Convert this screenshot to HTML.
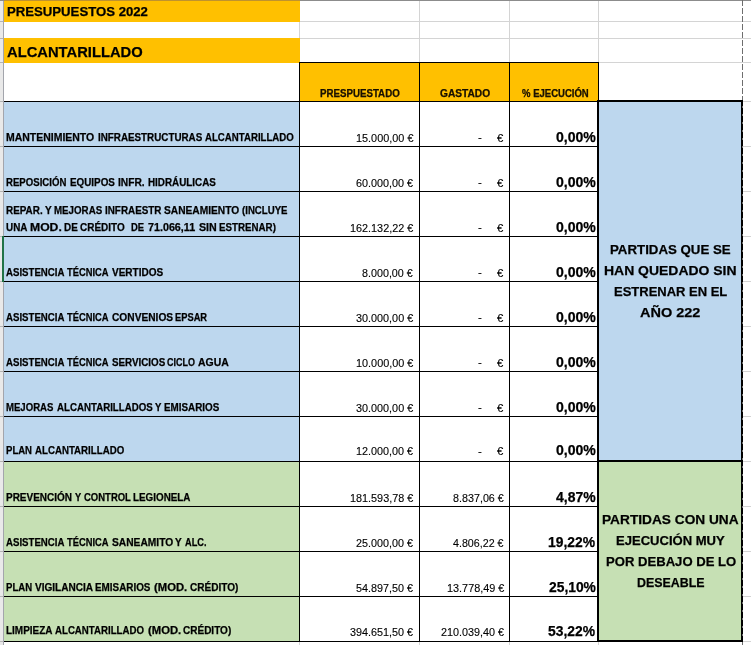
<!DOCTYPE html><html lang="es"><head><meta charset="utf-8"><title>Presupuestos 2022 - Alcantarillado</title>
<style>
html,body{margin:0;padding:0;background:#fff;}
body{width:751px;height:645px;position:relative;overflow:hidden;font-family:"Liberation Sans",sans-serif;}
#g div{position:absolute;}
.t{position:absolute;white-space:pre;line-height:1;transform-origin:0 0;display:block;-webkit-text-stroke:0.12px #000;}
.ln{position:absolute;left:0;top:0;width:0;height:0;}
.b{font-weight:bold;-webkit-text-stroke:0.25px #000;}
</style></head><body>
<div id="g"><div style="left:4px;top:21px;width:747px;height:1px;background:#D4D4D4;"></div><div style="left:4px;top:38px;width:747px;height:1px;background:#D4D4D4;"></div><div style="left:4px;top:62px;width:747px;height:1px;background:#D4D4D4;"></div><div style="left:743px;top:101px;width:8px;height:1px;background:#D4D4D4;"></div><div style="left:743px;top:146px;width:8px;height:1px;background:#D4D4D4;"></div><div style="left:743px;top:191px;width:8px;height:1px;background:#D4D4D4;"></div><div style="left:743px;top:236px;width:8px;height:1px;background:#D4D4D4;"></div><div style="left:743px;top:281px;width:8px;height:1px;background:#D4D4D4;"></div><div style="left:743px;top:326px;width:8px;height:1px;background:#D4D4D4;"></div><div style="left:743px;top:371px;width:8px;height:1px;background:#D4D4D4;"></div><div style="left:743px;top:416px;width:8px;height:1px;background:#D4D4D4;"></div><div style="left:743px;top:461px;width:8px;height:1px;background:#D4D4D4;"></div><div style="left:743px;top:506px;width:8px;height:1px;background:#D4D4D4;"></div><div style="left:743px;top:551px;width:8px;height:1px;background:#D4D4D4;"></div><div style="left:743px;top:596px;width:8px;height:1px;background:#D4D4D4;"></div><div style="left:743px;top:641px;width:8px;height:1px;background:#D4D4D4;"></div><div style="left:299px;top:1px;width:1px;height:62px;background:#D4D4D4;"></div><div style="left:419px;top:1px;width:1px;height:62px;background:#D4D4D4;"></div><div style="left:509px;top:1px;width:1px;height:62px;background:#D4D4D4;"></div><div style="left:598px;top:1px;width:1px;height:62px;background:#D4D4D4;"></div><div style="left:299px;top:642px;width:1px;height:3px;background:#D4D4D4;"></div><div style="left:419px;top:642px;width:1px;height:3px;background:#D4D4D4;"></div><div style="left:509px;top:642px;width:1px;height:3px;background:#D4D4D4;"></div><div style="left:598px;top:642px;width:1px;height:3px;background:#D4D4D4;"></div><div style="left:0px;top:0px;width:3px;height:645px;background:#E9E9E9;"></div><div style="left:0px;top:21px;width:3px;height:1px;background:#B4B4B4;"></div><div style="left:0px;top:38px;width:3px;height:1px;background:#B4B4B4;"></div><div style="left:0px;top:62px;width:3px;height:1px;background:#B4B4B4;"></div><div style="left:0px;top:101px;width:3px;height:1px;background:#B4B4B4;"></div><div style="left:0px;top:146px;width:3px;height:1px;background:#B4B4B4;"></div><div style="left:0px;top:191px;width:3px;height:1px;background:#B4B4B4;"></div><div style="left:0px;top:236px;width:3px;height:1px;background:#B4B4B4;"></div><div style="left:0px;top:281px;width:3px;height:1px;background:#B4B4B4;"></div><div style="left:0px;top:326px;width:3px;height:1px;background:#B4B4B4;"></div><div style="left:0px;top:371px;width:3px;height:1px;background:#B4B4B4;"></div><div style="left:0px;top:416px;width:3px;height:1px;background:#B4B4B4;"></div><div style="left:0px;top:461px;width:3px;height:1px;background:#B4B4B4;"></div><div style="left:0px;top:506px;width:3px;height:1px;background:#B4B4B4;"></div><div style="left:0px;top:551px;width:3px;height:1px;background:#B4B4B4;"></div><div style="left:0px;top:596px;width:3px;height:1px;background:#B4B4B4;"></div><div style="left:0px;top:641px;width:3px;height:1px;background:#B4B4B4;"></div><div style="left:3px;top:0px;width:1px;height:645px;background:#A3A5AC;"></div><div style="left:4px;top:1px;width:296px;height:21px;background:#FFC000;"></div><div style="left:4px;top:38px;width:296px;height:25px;background:#FFC000;"></div><div style="left:300px;top:63px;width:298px;height:38px;background:#FFC000;"></div><div style="left:4px;top:102px;width:295px;height:359px;background:#BDD7EE;"></div><div style="left:4px;top:462px;width:295px;height:179px;background:#C6E0B4;"></div><div style="left:599px;top:102px;width:142px;height:358px;background:#BDD7EE;"></div><div style="left:599px;top:462px;width:142px;height:178px;background:#C6E0B4;"></div><div style="left:0px;top:0px;width:751px;height:1px;background:#8C8C8C;"></div><div style="left:4px;top:0px;width:296px;height:1px;background:#BF922E;"></div><div style="left:4px;top:101px;width:595px;height:1px;background:#000;"></div><div style="left:4px;top:146px;width:595px;height:1px;background:#000;"></div><div style="left:4px;top:191px;width:595px;height:1px;background:#000;"></div><div style="left:4px;top:236px;width:595px;height:1px;background:#000;"></div><div style="left:4px;top:281px;width:595px;height:1px;background:#000;"></div><div style="left:4px;top:326px;width:595px;height:1px;background:#000;"></div><div style="left:4px;top:371px;width:595px;height:1px;background:#000;"></div><div style="left:4px;top:416px;width:595px;height:1px;background:#000;"></div><div style="left:4px;top:461px;width:595px;height:1px;background:#000;"></div><div style="left:4px;top:506px;width:595px;height:1px;background:#000;"></div><div style="left:4px;top:551px;width:595px;height:1px;background:#000;"></div><div style="left:4px;top:596px;width:595px;height:1px;background:#000;"></div><div style="left:4px;top:641px;width:595px;height:1px;background:#000;"></div><div style="left:299px;top:62px;width:300px;height:1px;background:#000;"></div><div style="left:299px;top:62px;width:1px;height:580px;background:#000;"></div><div style="left:419px;top:62px;width:1px;height:580px;background:#000;"></div><div style="left:509px;top:62px;width:1px;height:580px;background:#000;"></div><div style="left:598px;top:62px;width:1px;height:580px;background:#000;"></div><div style="left:597px;top:100px;width:2px;height:542px;background:#000;"></div><div style="left:597px;top:100px;width:146px;height:2px;background:#000;"></div><div style="left:597px;top:460px;width:146px;height:2px;background:#000;"></div><div style="left:597px;top:640px;width:146px;height:2px;background:#000;"></div><div style="left:741px;top:100px;width:1px;height:542px;background:#000;"></div><div style="left:742px;top:0px;width:1px;height:645px;background:repeating-linear-gradient(to bottom,#6e6e6e 0,#6e6e6e 6px,transparent 6px,transparent 8px);"></div><div style="left:742px;top:100px;width:1px;height:542px;background:repeating-linear-gradient(to bottom,#000 0,#000 6px,transparent 6px,transparent 8px);"></div><div style="left:2px;top:236px;width:2px;height:46px;background:#217346;"></div></div>
<span class="t b" style="left:6.73px;top:6.22px;font-size:12.5px;transform:scaleX(1.0527)">PRESUPUESTOS 2022</span>
<span class="t b" style="left:7.05px;top:43.75px;font-size:15.5px;transform:scaleX(0.9512)">ALCANTARILLADO</span>
<span class="t b" style="left:320.09px;top:88.62px;font-size:10px;color:#1c1200;transform:scaleX(0.9714)">PRESPUESTADO</span>
<span class="t b" style="left:439.82px;top:88.62px;font-size:10px;color:#1c1200;transform:scaleX(1.0168)">GASTADO</span>
<span class="t b" style="left:521.64px;top:88.60px;font-size:10px;color:#1c1200;transform:scaleX(0.9534)">% EJECUCIÓN</span>
<div class="ln"><span class="t b" style="left:6.27px;top:132.07px;font-size:10.5px;transform:scaleX(0.9970)">MANTENIMIENTO</span> <span class="t b" style="left:97.86px;top:132.07px;font-size:10.5px;transform:scaleX(0.9353)">INFRAESTRUCTURAS</span> <span class="t b" style="left:205.24px;top:132.07px;font-size:10.5px;transform:scaleX(0.9189)">ALCANTARILLADO</span></div>
<div class="ln"><span class="t b" style="left:6.11px;top:177.07px;font-size:10.5px;transform:scaleX(0.9151)">REPOSICIÓN</span> <span class="t b" style="left:70.26px;top:177.07px;font-size:10.5px;transform:scaleX(0.9376)">EQUIPOS</span> <span class="t b" style="left:117.62px;top:177.07px;font-size:10.5px;transform:scaleX(0.9741)">INFR.</span> <span class="t b" style="left:147.64px;top:177.07px;font-size:10.5px;transform:scaleX(0.9374)">HIDRÁULICAS</span></div>
<div class="ln"><span class="t b" style="left:6.16px;top:205.07px;font-size:10.5px;transform:scaleX(0.9427)">REPAR.</span> <span class="t b" style="left:44.82px;top:205.07px;font-size:10.5px;transform:scaleX(0.9546)">Y</span> <span class="t b" style="left:53.59px;top:205.07px;font-size:10.5px;transform:scaleX(0.9278)">MEJORAS</span> <span class="t b" style="left:104.72px;top:205.07px;font-size:10.5px;transform:scaleX(0.9399)">INFRAESTR</span> <span class="t b" style="left:163.96px;top:205.07px;font-size:10.5px;transform:scaleX(0.9715)">SANEAMIENTO</span> <span class="t b" style="left:241.72px;top:205.07px;font-size:10.5px;transform:scaleX(0.9178)">(INCLUYE</span></div>
<div class="ln"><span class="t b" style="left:6.36px;top:222.07px;font-size:10.5px;transform:scaleX(0.9414)">UNA</span> <span class="t b" style="left:29.66px;top:222.07px;font-size:10.5px;transform:scaleX(1.1595)">MOD.</span> <span class="t b" style="left:64.48px;top:222.07px;font-size:10.5px;transform:scaleX(0.9424)">DE</span> <span class="t b" style="left:80.36px;top:222.07px;font-size:10.5px;transform:scaleX(0.9482)">CRÉDITO</span> <span class="t b" style="left:130.66px;top:222.07px;font-size:10.5px;transform:scaleX(0.8988)">DE</span> <span class="t b" style="left:148.12px;top:222.07px;font-size:10.5px;transform:scaleX(1.0228)">71.066,11</span> <span class="t b" style="left:199.47px;top:222.07px;font-size:10.5px;transform:scaleX(1.0167)">SIN</span> <span class="t b" style="left:218.92px;top:222.07px;font-size:10.5px;transform:scaleX(0.9290)">ESTRENAR)</span></div>
<div class="ln"><span class="t b" style="left:5.66px;top:267.07px;font-size:10.5px;transform:scaleX(0.9190)">ASISTENCIA</span> <span class="t b" style="left:67.44px;top:267.07px;font-size:10.5px;transform:scaleX(0.8908)">TÉCNICA</span> <span class="t b" style="left:112.13px;top:267.07px;font-size:10.5px;transform:scaleX(0.9534)">VERTIDOS</span></div>
<div class="ln"><span class="t b" style="left:5.66px;top:312.07px;font-size:10.5px;transform:scaleX(0.9190)">ASISTENCIA</span> <span class="t b" style="left:67.44px;top:312.07px;font-size:10.5px;transform:scaleX(0.8908)">TÉCNICA</span> <span class="t b" style="left:111.80px;top:312.07px;font-size:10.5px;transform:scaleX(0.9698)">CONVENIOS</span> <span class="t b" style="left:175.03px;top:312.07px;font-size:10.5px;transform:scaleX(0.8867)">EPSAR</span></div>
<div class="ln"><span class="t b" style="left:5.66px;top:357.07px;font-size:10.5px;transform:scaleX(0.9190)">ASISTENCIA</span> <span class="t b" style="left:67.44px;top:357.07px;font-size:10.5px;transform:scaleX(0.8908)">TÉCNICA</span> <span class="t b" style="left:112.02px;top:357.07px;font-size:10.5px;transform:scaleX(0.9349)">SERVICIOS</span> <span class="t b" style="left:167.34px;top:357.07px;font-size:10.5px;transform:scaleX(0.8556)">CICLO</span> <span class="t b" style="left:197.63px;top:357.07px;font-size:10.5px;transform:scaleX(0.9938)">AGUA</span></div>
<div class="ln"><span class="t b" style="left:6.27px;top:402.07px;font-size:10.5px;transform:scaleX(0.9118)">MEJORAS</span> <span class="t b" style="left:56.72px;top:402.07px;font-size:10.5px;transform:scaleX(0.9240)">ALCANTARILLADOS</span> <span class="t b" style="left:155.30px;top:402.07px;font-size:10.5px;transform:scaleX(0.9132)">Y</span> <span class="t b" style="left:164.29px;top:402.07px;font-size:10.5px;transform:scaleX(0.9387)">EMISARIOS</span></div>
<div class="ln"><span class="t b" style="left:6.26px;top:445.07px;font-size:10.5px;transform:scaleX(0.9107)">PLAN</span> <span class="t b" style="left:34.89px;top:445.07px;font-size:10.5px;transform:scaleX(0.9230)">ALCANTARILLADO</span></div>
<div class="ln"><span class="t b" style="left:5.81px;top:492.07px;font-size:10.5px;transform:scaleX(0.9510)">PREVENCIÓN</span> <span class="t b" style="left:74.64px;top:492.07px;font-size:10.5px;transform:scaleX(0.8829)">Y</span> <span class="t b" style="left:83.65px;top:492.07px;font-size:10.5px;transform:scaleX(0.9036)">CONTROL</span> <span class="t b" style="left:133.40px;top:492.07px;font-size:10.5px;transform:scaleX(0.9378)">LEGIONELA</span></div>
<div class="ln"><span class="t b" style="left:5.66px;top:537.08px;font-size:10.5px;transform:scaleX(0.9190)">ASISTENCIA</span> <span class="t b" style="left:67.44px;top:537.08px;font-size:10.5px;transform:scaleX(0.8908)">TÉCNICA</span> <span class="t b" style="left:112.03px;top:537.08px;font-size:10.5px;transform:scaleX(0.9743)">SANEAMITO</span> <span class="t b" style="left:175.47px;top:537.08px;font-size:10.5px;transform:scaleX(0.9545)">Y</span> <span class="t b" style="left:184.69px;top:537.08px;font-size:10.5px;transform:scaleX(0.8747)">ALC.</span></div>
<div class="ln"><span class="t b" style="left:6.29px;top:582.08px;font-size:10.5px;transform:scaleX(0.9112)">PLAN</span> <span class="t b" style="left:34.63px;top:582.08px;font-size:10.5px;transform:scaleX(0.9579)">VIGILANCIA</span> <span class="t b" style="left:95.07px;top:582.08px;font-size:10.5px;transform:scaleX(0.9407)">EMISARIOS</span> <span class="t b" style="left:154.41px;top:582.08px;font-size:10.5px;transform:scaleX(1.0721)">(MOD.</span> <span class="t b" style="left:189.88px;top:582.08px;font-size:10.5px;transform:scaleX(0.9582)">CRÉDITO)</span></div>
<div class="ln"><span class="t b" style="left:6.42px;top:624.82px;font-size:10.5px;transform:scaleX(0.9480)">LIMPIEZA</span> <span class="t b" style="left:55.42px;top:624.82px;font-size:10.5px;transform:scaleX(0.9206)">ALCANTARILLADO</span> <span class="t b" style="left:147.66px;top:624.82px;font-size:10.5px;transform:scaleX(1.0721)">(MOD.</span> <span class="t b" style="left:183.44px;top:624.82px;font-size:10.5px;transform:scaleX(0.9536)">CRÉDITO)</span></div>
<span class="t" style="left:355.68px;top:132.66px;font-size:11px;transform:scaleX(0.9884)">15.000,00 €</span>
<div class="ln"><span class="t" style="left:478.03px;top:132.03px;font-size:11.5px;transform:scaleX(1.0000)">-</span> <span class="t" style="left:497.03px;top:132.74px;font-size:11px;transform:scaleX(1.0309)">€</span></div>
<span class="t b" style="left:555.72px;top:130.27px;font-size:14px;transform:scaleX(1.0042)">0,00%</span>
<span class="t" style="left:356.28px;top:177.85px;font-size:11px;transform:scaleX(0.9824)">60.000,00 €</span>
<div class="ln"><span class="t" style="left:478.03px;top:177.03px;font-size:11.5px;transform:scaleX(1.0000)">-</span> <span class="t" style="left:497.03px;top:177.74px;font-size:11px;transform:scaleX(1.0309)">€</span></div>
<span class="t b" style="left:555.72px;top:175.27px;font-size:14px;transform:scaleX(1.0042)">0,00%</span>
<span class="t" style="left:349.72px;top:222.67px;font-size:11px;transform:scaleX(0.9852)">162.132,22 €</span>
<div class="ln"><span class="t" style="left:478.03px;top:222.03px;font-size:11.5px;transform:scaleX(1.0000)">-</span> <span class="t" style="left:497.03px;top:222.74px;font-size:11px;transform:scaleX(1.0309)">€</span></div>
<span class="t b" style="left:555.72px;top:220.27px;font-size:14px;transform:scaleX(1.0042)">0,00%</span>
<span class="t" style="left:362.48px;top:267.90px;font-size:11px;transform:scaleX(0.9765)">8.000,00 €</span>
<div class="ln"><span class="t" style="left:478.03px;top:267.03px;font-size:11.5px;transform:scaleX(1.0000)">-</span> <span class="t" style="left:497.03px;top:267.74px;font-size:11px;transform:scaleX(1.0309)">€</span></div>
<span class="t b" style="left:555.72px;top:265.27px;font-size:14px;transform:scaleX(1.0042)">0,00%</span>
<span class="t" style="left:356.35px;top:312.78px;font-size:11px;transform:scaleX(0.9840)">30.000,00 €</span>
<div class="ln"><span class="t" style="left:478.03px;top:312.03px;font-size:11.5px;transform:scaleX(1.0000)">-</span> <span class="t" style="left:497.03px;top:312.74px;font-size:11px;transform:scaleX(1.0309)">€</span></div>
<span class="t b" style="left:555.72px;top:310.27px;font-size:14px;transform:scaleX(1.0042)">0,00%</span>
<span class="t" style="left:355.69px;top:357.67px;font-size:11px;transform:scaleX(0.9878)">10.000,00 €</span>
<div class="ln"><span class="t" style="left:478.03px;top:357.03px;font-size:11.5px;transform:scaleX(1.0000)">-</span> <span class="t" style="left:497.03px;top:357.74px;font-size:11px;transform:scaleX(1.0309)">€</span></div>
<span class="t b" style="left:555.72px;top:355.27px;font-size:14px;transform:scaleX(1.0042)">0,00%</span>
<span class="t" style="left:356.35px;top:402.78px;font-size:11px;transform:scaleX(0.9840)">30.000,00 €</span>
<div class="ln"><span class="t" style="left:478.03px;top:402.03px;font-size:11.5px;transform:scaleX(1.0000)">-</span> <span class="t" style="left:497.03px;top:402.74px;font-size:11px;transform:scaleX(1.0309)">€</span></div>
<span class="t b" style="left:555.72px;top:400.27px;font-size:14px;transform:scaleX(1.0042)">0,00%</span>
<span class="t" style="left:355.56px;top:446.25px;font-size:11px;transform:scaleX(0.9824)">12.000,00 €</span>
<div class="ln"><span class="t" style="left:478.03px;top:446.03px;font-size:11.5px;transform:scaleX(1.0000)">-</span> <span class="t" style="left:497.03px;top:446.34px;font-size:11px;transform:scaleX(1.0309)">€</span></div>
<span class="t b" style="left:555.72px;top:442.97px;font-size:14px;transform:scaleX(1.0042)">0,00%</span>
<span class="t" style="left:349.56px;top:492.67px;font-size:11px;transform:scaleX(0.9852)">181.593,78 €</span>
<span class="t" style="left:452.75px;top:492.88px;font-size:11px;transform:scaleX(0.9772)">8.837,06 €</span>
<span class="t b" style="left:555.59px;top:490.27px;font-size:14px;transform:scaleX(0.9959)">4,87%</span>
<span class="t" style="left:356.29px;top:537.85px;font-size:11px;transform:scaleX(0.9786)">25.000,00 €</span>
<span class="t" style="left:453.29px;top:537.99px;font-size:11px;transform:scaleX(0.9709)">4.806,22 €</span>
<span class="t b" style="left:548.29px;top:535.27px;font-size:14px;transform:scaleX(0.9926)">19,22%</span>
<span class="t" style="left:356.07px;top:582.75px;font-size:11px;transform:scaleX(0.9827)">54.897,50 €</span>
<span class="t" style="left:446.61px;top:582.63px;font-size:11px;transform:scaleX(0.9879)">13.778,49 €</span>
<span class="t b" style="left:548.57px;top:580.27px;font-size:14px;transform:scaleX(0.9876)">25,10%</span>
<span class="t" style="left:349.59px;top:627.31px;font-size:11px;transform:scaleX(0.9829)">394.651,50 €</span>
<span class="t" style="left:440.51px;top:627.31px;font-size:11px;transform:scaleX(0.9827)">210.039,40 €</span>
<span class="t b" style="left:548.49px;top:624.22px;font-size:14px;transform:scaleX(0.9916)">53,22%</span>
<div class="ln"><span class="t b" style="left:610.25px;top:242.60px;font-size:13px;transform:scaleX(1.0208)">PARTIDAS QUE SE</span>
<span class="t b" style="left:603.66px;top:263.60px;font-size:13px;transform:scaleX(1.0732)">HAN QUEDADO SIN</span>
<span class="t b" style="left:613.72px;top:285.20px;font-size:13px;transform:scaleX(0.9987)">ESTRENAR EN EL</span>
<span class="t b" style="left:639.68px;top:306.20px;font-size:13px;transform:scaleX(1.1141)">AÑO 222</span></div>
<div class="ln"><span class="t b" style="left:602.45px;top:512.60px;font-size:13px;transform:scaleX(1.0529)">PARTIDAS CON UNA</span>
<span class="t b" style="left:616.11px;top:533.60px;font-size:13px;transform:scaleX(1.0037)">EJECUCIÓN MUY</span>
<span class="t b" style="left:606.28px;top:555.20px;font-size:13px;transform:scaleX(1.0071)">POR DEBAJO DE LO</span>
<span class="t b" style="left:636.72px;top:576.20px;font-size:13px;transform:scaleX(0.9543)">DESEABLE</span></div>
</body></html>
